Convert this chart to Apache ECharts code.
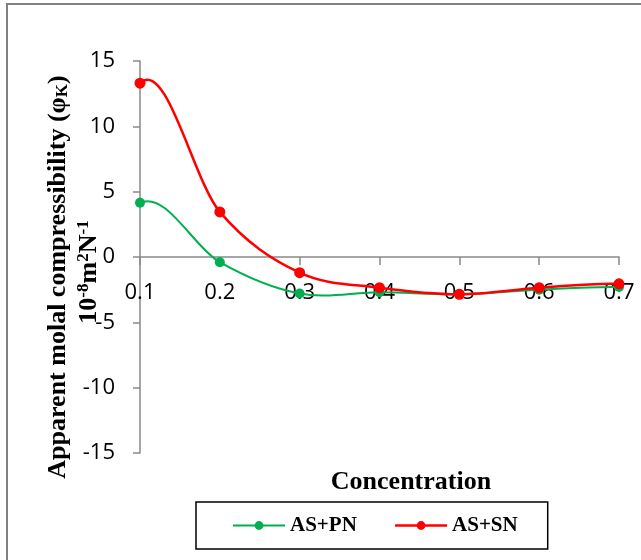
<!DOCTYPE html>
<html><head><meta charset="utf-8">
<script src="https://cdn.jsdelivr.net/npm/echarts@6/dist/echarts.min.js"></script>
<style>html,body{margin:0;padding:0;background:#fff}#c{width:641px;height:560px}</style>
</head><body><div id="c"></div>
<script>
const categories = ['0.1','0.2','0.3','0.4','0.5','0.6','0.7'];
const asPN = [4.15, -0.4, -2.8, -2.7, -2.85, -2.5, -2.3];
const asSN = [13.3, 3.45, -1.2, -2.35, -2.85, -2.35, -2.05];
const seriesNames = ['AS+PN', 'AS+SN'];
const seriesColors = ['#00B050', '#FF0000'];
const yTicks = {min: -15, max: 15, interval: 5};

const axisGray = '#898989';
const serif = '"Liberation Serif", "Times New Roman", serif';

// Excel-like smoothed curve drawn through the chart's own scale (api.coord)
function smoothRender(values, color, width) {
  return function (params, api) {
    const p = values.map((v, i) => api.coord([i, v]));
    const n = p.length;
    let d = 'M' + p[0][0] + ' ' + p[0][1];
    for (let i = 0; i < n - 1; i++) {
      const a = p[i], b = p[i + 1];
      let c1, c2;
      if (i === 0) {
        c1 = [a[0] + (b[0] - a[0]) / 3, a[1] - 0.2 * (b[1] - a[1])];
      } else {
        const pr = p[i - 1];
        c1 = [a[0] + (b[0] - pr[0]) / 6, a[1] + (b[1] - pr[1]) / 6];
      }
      if (i === n - 2) {
        c2 = [b[0] - (b[0] - a[0]) / 3, b[1] + 0.2 * (b[1] - a[1])];
      } else {
        const nx = p[i + 2];
        c2 = [b[0] - (nx[0] - a[0]) / 6, b[1] - (nx[1] - a[1]) / 6];
      }
      d += ' C' + c1[0] + ' ' + c1[1] + ' ' + c2[0] + ' ' + c2[1] + ' ' + b[0] + ' ' + b[1];
    }
    return {type: 'path', shape: {pathData: d},
      style: {fill: 'none', stroke: color, lineWidth: width}};
  };
}

const chart = echarts.init(document.getElementById('c'), null, {renderer: 'canvas'});
chart.setOption({
  animation: false,
  backgroundColor: '#fff',
  grid: {left: 140, right: 22, top: 61, bottom: 107, containLabel: false},
  xAxis: {
    type: 'category', data: categories, boundaryGap: false,
    offset: -196,
    axisLine: {onZero: false, lineStyle: {color: axisGray, width: 1.5}},
    axisTick: {show: true, alignWithLabel: true, length: 8, lineStyle: {color: axisGray, width: 1.5}},
    axisLabel: {color: '#000', fontFamily: '"Open Sans"', fontSize: 22, margin: 25},
    splitLine: {show: false}
  },
  yAxis: {
    type: 'value', min: yTicks.min, max: yTicks.max, interval: yTicks.interval,
    axisLine: {show: true, onZero: false, lineStyle: {color: axisGray, width: 1.5}},
    axisTick: {show: true, length: 7, lineStyle: {color: axisGray, width: 1.5}},
    axisLabel: {color: '#000', fontFamily: '"Open Sans"', fontSize: 22, margin: 25},
    splitLine: {show: false}
  },
  legend: {
    left: 196, top: 502,
    data: seriesNames.map((nm, i) => ({name: nm, lineStyle: {color: seriesColors[i], width: i ? 2.5 : 2, opacity: 1}})),
    itemWidth: 52, itemHeight: 11, itemGap: 37,
    padding: [13, 30, 13, 36],
    borderColor: '#000', borderWidth: 1.5,
    textStyle: {fontFamily: serif, fontWeight: 'bold', fontSize: 21, color: '#000'}
  },
  series: [
    {type: 'custom', data: [0], renderItem: smoothRender(asPN, seriesColors[0], 2), z: 2, silent: true},
    {type: 'custom', data: [0], renderItem: smoothRender(asSN, seriesColors[1], 2.5), z: 3, silent: true},
    {name: seriesNames[0], type: 'line', data: asPN, symbol: 'circle', symbolSize: 10,
     itemStyle: {color: seriesColors[0]}, lineStyle: {color: seriesColors[0], width: 2, opacity: 0}, z: 4},
    {name: seriesNames[1], type: 'line', data: asSN, symbol: 'circle', symbolSize: 11,
     itemStyle: {color: seriesColors[1]}, lineStyle: {color: seriesColors[1], width: 2.5, opacity: 0}, z: 5}
  ],
  graphic: [
    {type: 'rect', shape: {x: 7, y: 4, width: 700, height: 700}, style: {fill: 'none', stroke: '#808080', lineWidth: 2}, z: -1},
    {type: 'text', x: 58, y: 277, rotation: Math.PI / 2,
     style: {text: 'Apparent molal compressibility (φ{sub|K})', align: 'center', verticalAlign: 'middle',
       font: 'bold 26px ' + serif, fill: '#000',
       rich: {sub: {font: 'bold 17px ' + serif, verticalAlign: 'bottom', padding: [10, 0, 0, 0]}}}},
    {type: 'text', x: 89, y: 272, rotation: Math.PI / 2,
     style: {text: '10{sup|-8}m{sup|2}N{sup|-1}', align: 'center', verticalAlign: 'middle',
       font: 'bold 26px ' + serif, fill: '#000',
       rich: {sup: {font: 'bold 17px ' + serif, verticalAlign: 'top', padding: [0, 0, 10, 0]}}}},
    {type: 'text', x: 411, y: 482,
     style: {text: 'Concentration', align: 'center', verticalAlign: 'middle', font: 'bold 26px ' + serif, fill: '#000'}}
  ]
});
</script></body></html>
